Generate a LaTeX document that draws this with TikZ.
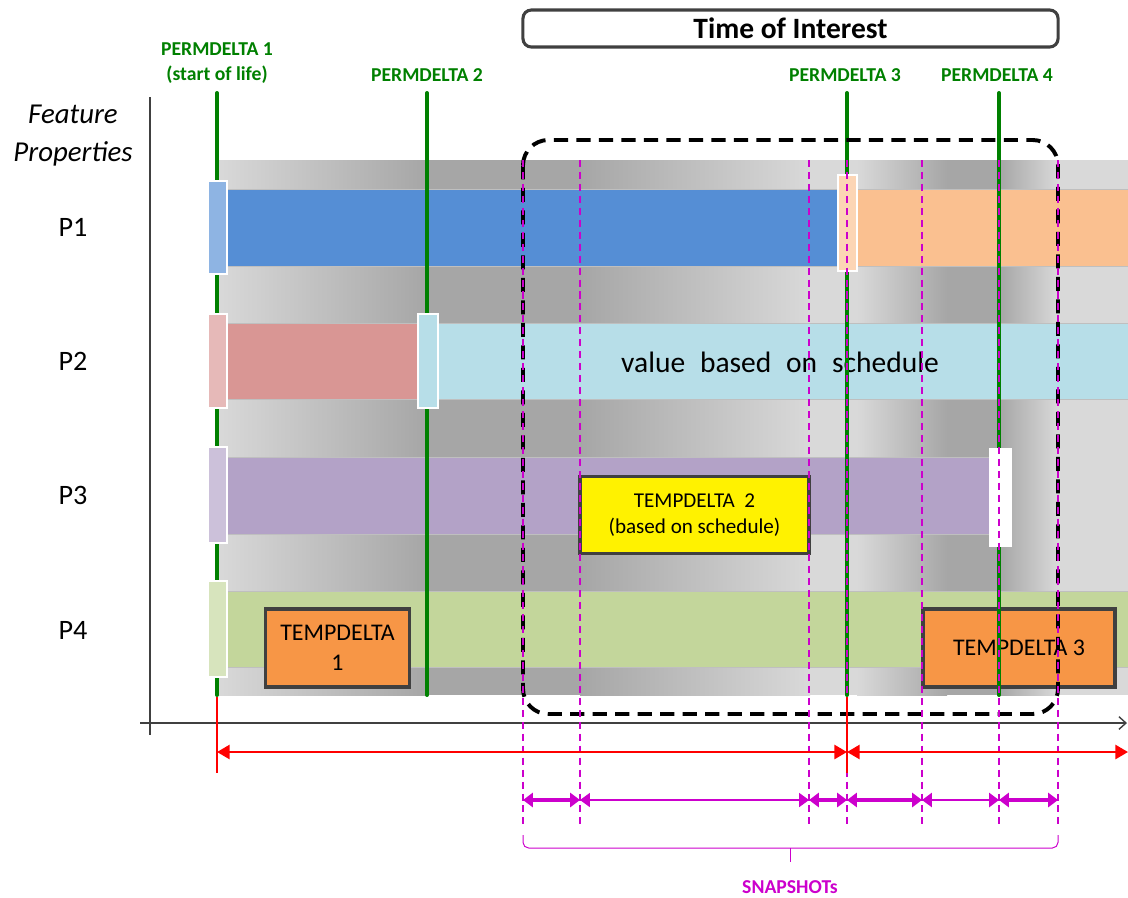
\documentclass[tikz,border=0pt]{standalone}
\usepackage{fontspec}
\setmainfont{Carlito}
\usepackage{xcolor}
\usepackage{tikz}
\usetikzlibrary{arrows.meta}

\definecolor{pdgreen}{RGB}{0,128,0}
\definecolor{snap}{RGB}{204,0,204}
\definecolor{bandlight}{HTML}{D9D9D9}
\definecolor{banddark}{HTML}{A6A6A6}
\definecolor{boxgray}{HTML}{404040}
\definecolor{p1blue}{HTML}{558ED5}
\definecolor{p1orange}{HTML}{FAC090}
\definecolor{p2red}{HTML}{D99694}
\definecolor{p2lblue}{HTML}{B7DEE8}
\definecolor{p3purple}{HTML}{B3A2C7}
\definecolor{p4green}{HTML}{C3D69B}
\definecolor{mkblue}{HTML}{8EB4E3}
\definecolor{mkpeach}{HTML}{FCD5B5}
\definecolor{mkpink}{HTML}{E6B9B8}
\definecolor{mklav}{HTML}{CCC1DA}
\definecolor{mkgreen}{HTML}{D7E4BD}
\definecolor{tdorange}{HTML}{F79646}

\begin{document}
\begin{tikzpicture}[x=0.025cm, y=-0.025cm]
	\tikzstyle{rowlabel}=[font=\fontsize{20}{26}\selectfont, align=center]
	\tikzstyle{permlabel}=[text=pdgreen, font=\bfseries\fontsize{14}{17.5}\selectfont, align=center]
	\tikzstyle{permline}=[draw=pdgreen, line width=2.8pt, line cap=round]
	\tikzstyle{bar}=[draw=black!25, line width=0.5pt]
	\tikzstyle{marker}=[draw=white, line width=0.8pt]
	\tikzstyle{tempbox}=[draw=boxgray, line width=2.2pt, fill=tdorange, align=center, inner sep=0pt, font=\fontsize{17}{21}\selectfont]
	\tikzstyle{snapline}=[draw=snap, line width=1.4pt, dash pattern=on 5pt off 3.5pt]
	\tikzstyle{snaparrow}=[draw=snap, line width=2.4pt, {Triangle[length=7pt,width=10pt]}-{Triangle[length=7pt,width=10pt]}]
	\tikzstyle{lifearrow}=[draw=red, line width=1.8pt, {Triangle[length=9pt,width=10pt]}-{Triangle[length=9pt,width=10pt]}]
	\useasboundingbox (0,0) rectangle (1128,897);

	% time of interest
	\node[draw=boxgray, line width=2.2pt, rounded corners=6pt, minimum width=13.375cm, minimum height=0.925cm,
		font=\bfseries\fontsize{21}{25}\selectfont] (toi) at (790.5,28.5) {Time of Interest};

	% labels
	\node[rowlabel, font=\itshape\fontsize{20.5}{27}\selectfont] (feat) at (73,136) {Feature\\Properties};
	\node[rowlabel] (p1) at (73,227) {P1};
	\node[rowlabel] (p2) at (73,361) {P2};
	\node[rowlabel] (p3) at (73,495) {P3};
	\node[rowlabel] (p4) at (73,630) {P4};
	\node[permlabel] (pd1) at (217,63) {PERMDELTA 1\\(start of life)};
	\node[permlabel] (pd2) at (427,75) {PERMDELTA 2};
	\node[permlabel] (pd3) at (845,75) {PERMDELTA 3};
	\node[permlabel] (pd4) at (997,75) {PERMDELTA 4};

	% grey band
	\shade[left color=bandlight, right color=banddark] (217,160) rectangle (427,695);
	\fill[banddark] (427,160) rectangle (580,695);
	\shade[left color=banddark, right color=bandlight] (580,160) rectangle (810,695);
	\fill[bandlight] (810,160) rectangle (857,695);
	\shade[left color=bandlight, right color=banddark] (857,160) rectangle (947,695);
	\fill[banddark] (947,160) rectangle (999,695);
	\shade[left color=banddark, right color=bandlight] (999,160) rectangle (1058,695);
	\fill[bandlight] (1058,160) rectangle (1128,695);

	% property bars
	\filldraw[bar, fill=p1blue] (227,189) rectangle (838,266);
	\filldraw[bar, fill=p1orange] (857,189) rectangle (1130,266);
	\filldraw[bar, fill=p2red] (227,323) rectangle (418,399);
	\filldraw[bar, fill=p2lblue] (438,323) rectangle (1130,399);
	\filldraw[bar, fill=p3purple] (227,457) rectangle (990,534);
	\filldraw[bar, fill=p4green] (227,591) rectangle (1130,667);
	\node[font=\fontsize{21}{25}\selectfont] (sched) at (780,362)
		{value\hspace{0.5em}based\hspace{0.5em}on\hspace{0.5em}schedule};

	% temporary deltas
	\node[tempbox, minimum width=3.6cm, minimum height=1.95cm] (td1) at (337.5,648) {TEMPDELTA\\1};
	\node[tempbox, fill=yellow, minimum width=5.725cm, minimum height=1.925cm,
		font=\fontsize{15}{19}\selectfont] (td2) at (694.5,515) {TEMPDELTA\ \ 2\\(based\ on\ schedule)};
	\node[tempbox, minimum width=4.8cm, minimum height=1.95cm] (td3) at (1019,648) {TEMPDELTA 3};

	% permanent deltas
	\coordinate (g1) at (217,93);
	\coordinate (g2) at (427,93);
	\coordinate (g3) at (847,93);
	\coordinate (g4) at (999,93);
	\coordinate (bandbot) at (0,695);
	\draw[permline] (g1) -- (g1 |- bandbot);
	\draw[permline] (g2) -- (g2 |- bandbot);
	\draw[permline] (g3) -- (g3 |- bandbot);
	\draw[permline] (g4) -- (g4 |- bandbot);

	% markers
	\filldraw[marker, fill=mkblue] (208,181) rectangle (227,274);
	\filldraw[marker, fill=mkpeach] (838,175) rectangle (857,271);
	\filldraw[marker, fill=mkpink] (208,314) rectangle (227,408);
	\filldraw[marker, fill=p2lblue] (418,314) rectangle (438,408);
	\filldraw[marker, fill=mklav] (208,447) rectangle (227,543);
	\filldraw[marker, fill=white] (990,449) rectangle (1011,546);
	\filldraw[marker, fill=mkgreen] (208,581) rectangle (227,677);

	% axes
	\draw[boxgray, line width=1pt] (150,97) -- (150,735);
	\draw[boxgray, line width=1pt, -{Straight Barb[length=5pt,width=9pt]}] (140,723) -- (1127,723);

	% time of interest frame
	\draw[black, line width=2.8pt, dash pattern=on 10pt off 6pt, rounded corners=18pt] (523,140) rectangle (1058,714);

	% snapshots
	\coordinate (s1) at (523,160);
	\coordinate (s2) at (580,160);
	\coordinate (s3) at (809,160);
	\coordinate (s4) at (847,160);
	\coordinate (s5) at (922,160);
	\coordinate (s6) at (999,160);
	\coordinate (s7) at (1058,160);
	\coordinate (snapbot) at (0,826);
	\coordinate (snaprow) at (0,800);
	\draw[snapline] (s1) -- (s1 |- snapbot);
	\draw[snapline] (s2) -- (s2 |- snapbot);
	\draw[snapline] (s3) -- (s3 |- snapbot);
	\draw[snapline] (s4) -- (s4 |- snapbot);
	\draw[snapline] (s5) -- (s5 |- snapbot);
	\draw[snapline] (s6) -- (s6 |- snapbot);
	\draw[snapline] (s7) -- (s7 |- snapbot);
	\draw[snaparrow] (s1 |- snaprow) -- (s2 |- snaprow);
	\draw[snaparrow, line width=0.8pt] (s2 |- snaprow) -- (s3 |- snaprow);
	\draw[snaparrow] (s3 |- snaprow) -- (s4 |- snaprow);
	\draw[snaparrow] (s4 |- snaprow) -- (s5 |- snaprow);
	\draw[snaparrow, line width=1.4pt] (s5 |- snaprow) -- (s6 |- snaprow);
	\draw[snaparrow] (s6 |- snaprow) -- (s7 |- snaprow);

	% brace
	\coordinate (brtop) at (0,835);
	\coordinate (brmid) at (790,848);
	\coordinate (brtip) at (790,862);
	\draw[snap, line width=0.7pt, rounded corners=4pt] (s1 |- brtop) |- (brmid) -| (s7 |- brtop);
	\draw[snap, line width=0.7pt] (brmid) -- (brtip);
	\node[text=snap, font=\bfseries\fontsize{14}{17}\selectfont] (snaps) at (790,887) {SNAPSHOTs};

	% life span
	\coordinate (r1) at (217,697);
	\coordinate (r2) at (847,697);
	\coordinate (r3) at (1128,752);
	\coordinate (lifebot) at (0,773);
	\coordinate (liferow) at (0,752);
	\draw[red, line width=1.4pt] (r1) -- (r1 |- lifebot);
	\draw[red, line width=1.4pt] (r2) -- (r2 |- lifebot);
	\draw[lifearrow] (r1 |- liferow) -- (r2 |- liferow);
	\draw[lifearrow] (r2 |- liferow) -- (r3);
\end{tikzpicture}
\end{document}
